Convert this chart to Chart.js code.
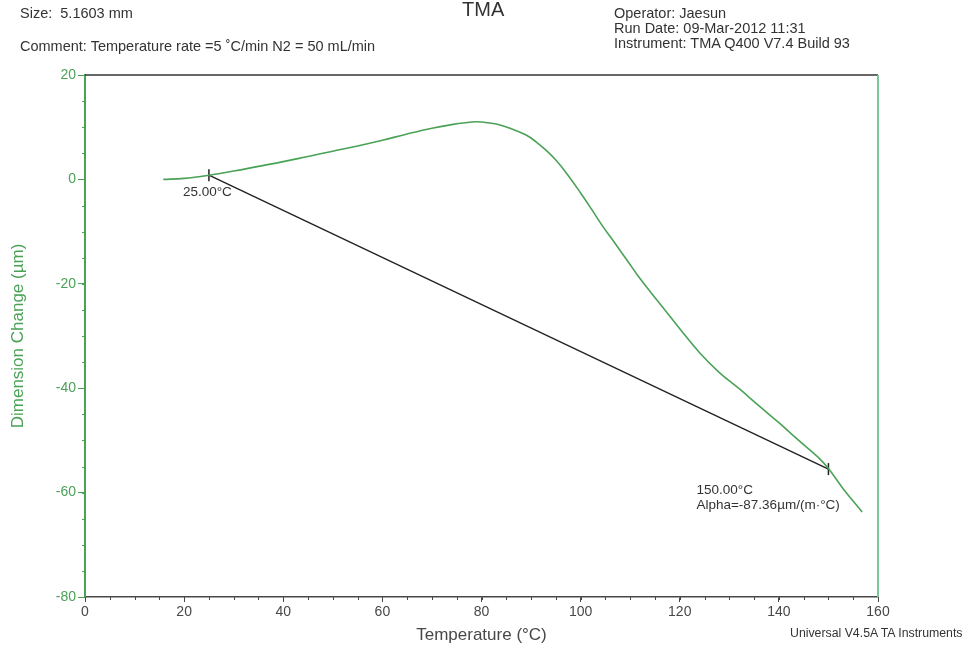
<!DOCTYPE html>
<html>
<head>
<meta charset="utf-8">
<script src="https://cdn.jsdelivr.net/npm/chart.js@4.4.1/dist/chart.umd.min.js"></script>
<style>
  body { margin: 0; background: #fff; font-family: "Liberation Sans", Arial, sans-serif; }
  #wrap { position: relative; width: 966px; height: 650px; overflow: hidden; }
  canvas { position: absolute; left: 0; top: 0; }
  .hdr { position: absolute; font-size: 14.5px; color: #333; line-height: 15px; white-space: nowrap; }
</style>
</head>
<body>
<div id="wrap">
  <canvas id="c" width="966" height="650"></canvas>
  <div class="hdr" style="left:20px; top:6px;">Size:&nbsp; 5.1603 mm</div>
  <div class="hdr" style="left:20px; top:39px;">Comment: Temperature rate =5 &#730;C/min N2 = 50 mL/min</div>
  <div class="hdr" style="left:462px; top:-1px; font-size:20px; line-height:20px;">TMA</div>
  <div class="hdr" style="left:614px; top:6px;">Operator: Jaesun<br>Run Date: 09-Mar-2012 11:31<br>Instrument: TMA Q400 V7.4 Build 93</div>
  <div class="hdr" style="left:790px; top:626px; font-size:12.3px;">Universal V4.5A TA Instruments</div>
</div>
<script>
// TMA dimension change vs temperature

// curve
const tempC = [15.8, 20, 25, 30, 35, 40, 45, 50, 55, 60, 65, 70, 74, 78, 80, 83, 86, 89, 91, 93, 95,
    97.3, 100, 102.2, 104.4, 106.9, 109.3, 111.6, 114.3, 117, 120, 124, 128, 132, 136, 140, 144, 148, 150, 153, 156.8];
const dimChange = [0.0, 0.2, 0.8, 1.6, 2.5, 3.4, 4.4, 5.4, 6.4, 7.5, 8.7, 9.8, 10.5, 11.0, 11.0, 10.6, 9.7, 8.5, 7.2, 5.6, 3.7,
    1.0, -2.6, -5.7, -8.9, -12.2, -15.4, -18.5, -21.8, -25.0, -28.6, -33.2, -37.0, -40.1, -43.4, -46.6, -50.0, -53.3, -55.4, -59.3, -63.7];

// alpha analysis line (25 -> 150 C)
const fitTemp = [25, 150];
const fitDim = [0.8, -55.5];

// annotation texts anchored at the analysis points
const annotations = [
    { x: 25, y: 0.8, lines: ['25.00°C'], dx: -26, dy: 17 },
    { x: 150, y: -55.5, lines: ['150.00°C', 'Alpha=-87.36µm/(m·°C)'], dx: -132, dy: 21 }
];

const xMin = 0, xMax = 160, yMin = -80, yMax = 20;
const minorStep = 5;

const green = '#4aa257';
const dark = '#484848';
const fontFamily = '"Liberation Sans", Arial, sans-serif';

function toPoints(xs, ys) {
    return xs.map((x, i) => ({ x: x, y: ys[i] }));
}

const framePlugin = {
    id: 'frame',
    afterDatasetsDraw(chart) {
        const { ctx, chartArea: a, scales } = chart;
        ctx.save();
        // top border + right border
        ctx.lineWidth = 1.5;
        ctx.strokeStyle = '#333';
        ctx.beginPath();
        ctx.moveTo(a.left, a.top);
        ctx.lineTo(a.right, a.top);
        ctx.stroke();
        ctx.strokeStyle = '#7cc49a';
        ctx.lineWidth = 2;
        ctx.beginPath();
        ctx.moveTo(a.right, a.top);
        ctx.lineTo(a.right, a.bottom);
        ctx.stroke();
        // minor ticks
        ctx.lineWidth = 1;
        ctx.strokeStyle = green;
        for (let v = yMin; v <= yMax; v += minorStep) {
            const py = Math.round(scales.y.getPixelForValue(v)) + 0.5;
            ctx.beginPath();
            ctx.moveTo(a.left - 3, py);
            ctx.lineTo(a.left, py);
            ctx.stroke();
        }
        ctx.strokeStyle = dark;
        for (let v = xMin; v <= xMax; v += minorStep) {
            const px = Math.round(scales.x.getPixelForValue(v)) + 0.5;
            ctx.beginPath();
            ctx.moveTo(px, a.bottom);
            ctx.lineTo(px, a.bottom + 3);
            ctx.stroke();
        }
        ctx.restore();
    },
    afterDraw(chart) {
        const { ctx, scales } = chart;
        ctx.save();
        ctx.font = '13.5px ' + fontFamily;
        ctx.fillStyle = '#333';
        ctx.textBaseline = 'middle';
        annotations.forEach(an => {
            const px = scales.x.getPixelForValue(an.x) + an.dx;
            const py = scales.y.getPixelForValue(an.y) + an.dy;
            an.lines.forEach((t, i) => ctx.fillText(t, px, py + i * 15));
        });
        ctx.restore();
    }
};

new Chart(document.getElementById('c'), {
    type: 'line',
    data: {
        datasets: [
            {
                label: 'Dimension Change',
                data: toPoints(tempC, dimChange),
                borderColor: green,
                borderWidth: 1.6,
                pointRadius: 0,
                tension: 0.4,
                fill: false
            },
            {
                label: 'Alpha',
                data: toPoints(fitTemp, fitDim),
                borderColor: '#222',
                borderWidth: 1.4,
                pointStyle: 'line',
                pointRotation: 90,
                pointRadius: 6,
                pointBorderWidth: 1.5,
                pointBorderColor: '#222',
                tension: 0,
                fill: false
            }
        ]
    },
    options: {
        responsive: false,
        animation: false,
        layout: { padding: { top: 75, right: 88, left: 0, bottom: 0 } },
        plugins: {
            legend: { display: false },
            tooltip: { enabled: false }
        },
        scales: {
            x: {
                type: 'linear',
                min: xMin,
                max: xMax,
                afterFit(s) { s.height = 53; },
                border: { color: dark, width: 1.5 },
                grid: { drawOnChartArea: false, tickLength: 5, color: dark },
                ticks: {
                    stepSize: 20,
                    autoSkip: false,
                    maxRotation: 0,
                    padding: 2,
                    color: dark,
                    font: { family: fontFamily, size: 14 }
                },
                title: {
                    display: true,
                    text: 'Temperature (°C)',
                    color: dark,
                    padding: { top: 0, bottom: 4 },
                    font: { family: fontFamily, size: 17 }
                }
            },
            y: {
                type: 'linear',
                min: yMin,
                max: yMax,
                afterFit(s) { s.width = 85; },
                border: { color: green, width: 2 },
                grid: { drawOnChartArea: false, tickLength: 7, color: green },
                ticks: {
                    stepSize: 20,
                    autoSkip: false,
                    padding: 2,
                    color: green,
                    font: { family: fontFamily, size: 14 }
                },
                title: {
                    display: true,
                    text: 'Dimension Change (µm)',
                    color: green,
                    padding: { top: 8, bottom: 0 },
                    font: { family: fontFamily, size: 17 }
                }
            }
        }
    },
    plugins: [framePlugin]
});
</script>
</body>
</html>
